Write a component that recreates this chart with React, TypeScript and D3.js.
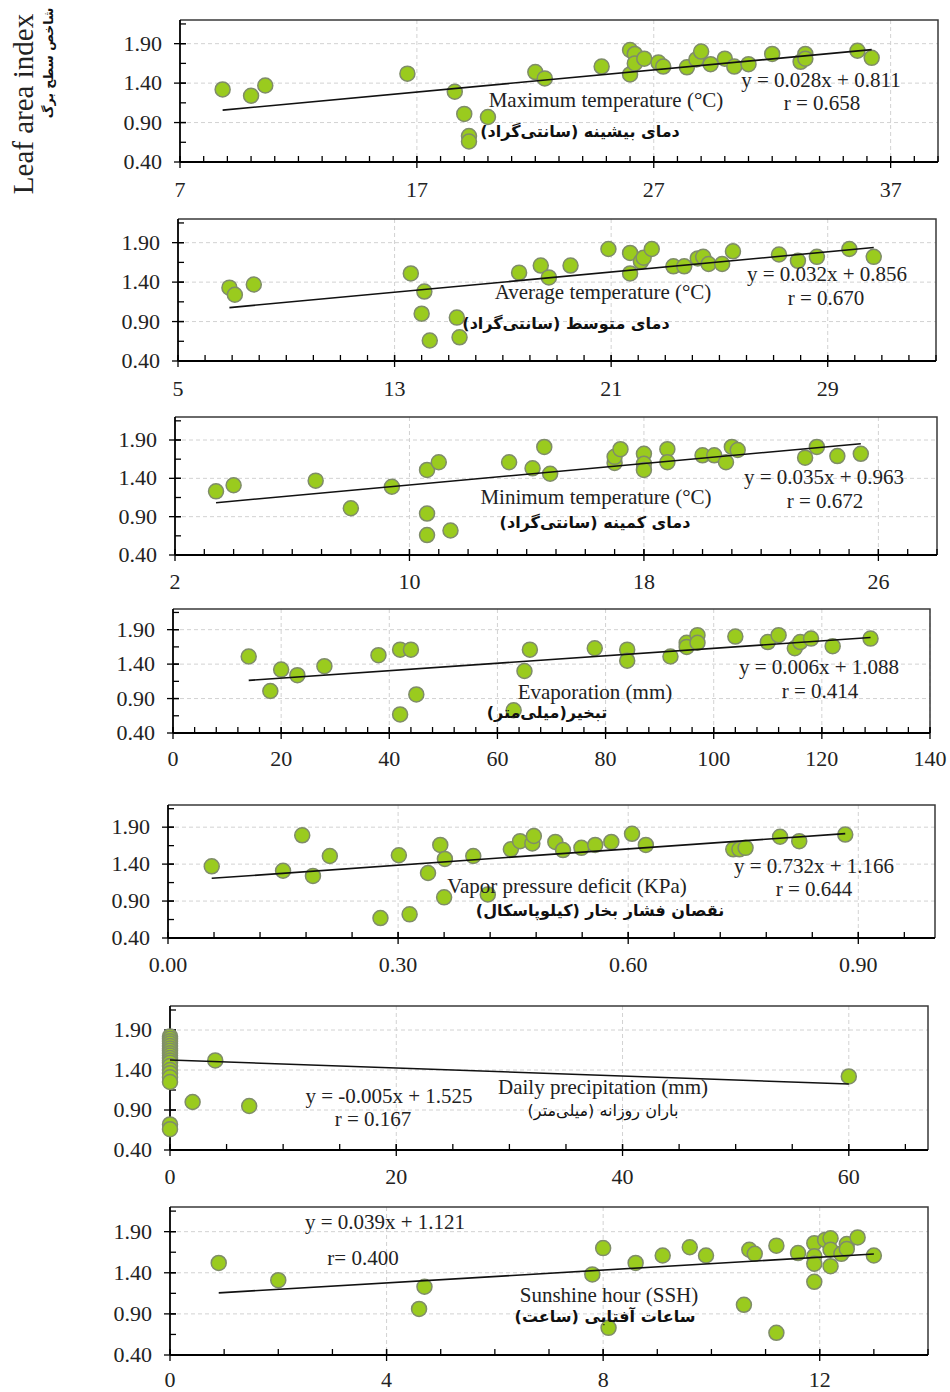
import React, { useEffect, useRef } from 'react';
import * as d3 from 'd3';

// values
const maxTempX = [8.8, 10.0, 10.6, 16.6, 18.6, 19.0, 19.2, 19.2, 20.0, 22.0, 22.4, 24.8, 26.0, 26.2, 26.0, 26.2, 26.6, 27.2, 27.4, 28.4, 28.8, 29.0, 29.4, 30.0, 30.4, 31.0, 32.0, 33.2, 33.4, 33.4, 35.6, 36.2];
const maxTempY = [1.32, 1.24, 1.37, 1.52, 1.29, 1.01, 0.73, 0.66, 0.97, 1.54, 1.46, 1.61, 1.82, 1.77, 1.51, 1.65, 1.71, 1.66, 1.61, 1.60, 1.70, 1.80, 1.64, 1.71, 1.61, 1.64, 1.77, 1.67, 1.77, 1.71, 1.81, 1.72];

const avgTempX = [6.9, 7.1, 7.8, 13.6, 14.1, 14.0, 14.3, 15.3, 15.4, 17.6, 18.4, 18.7, 19.5, 20.9, 21.7, 21.7, 22.1, 22.2, 22.5, 23.3, 23.7, 24.2, 24.4, 24.6, 25.1, 25.5, 27.2, 27.9, 28.6, 29.8, 30.7];
const avgTempY = [1.33, 1.24, 1.37, 1.51, 1.28, 1.00, 0.66, 0.95, 0.70, 1.52, 1.61, 1.46, 1.61, 1.82, 1.77, 1.51, 1.66, 1.71, 1.82, 1.60, 1.60, 1.70, 1.72, 1.63, 1.63, 1.79, 1.75, 1.67, 1.72, 1.82, 1.72];

const minTempX = [3.4, 4.0, 6.8, 8.0, 9.4, 10.6, 10.6, 10.6, 11.0, 11.4, 13.4, 14.2, 14.6, 14.8, 17.0, 17.0, 17.2, 18.0, 18.0, 18.0, 18.8, 18.8, 20.0, 20.4, 20.8, 21.0, 21.2, 23.5, 23.9, 24.6, 25.4];
const minTempY = [1.23, 1.31, 1.37, 1.01, 1.29, 1.51, 0.94, 0.66, 1.61, 0.72, 1.61, 1.53, 1.81, 1.46, 1.60, 1.68, 1.78, 1.72, 1.59, 1.51, 1.78, 1.61, 1.70, 1.70, 1.61, 1.81, 1.77, 1.67, 1.81, 1.69, 1.72];

const evapX = [14, 18, 20, 23, 28, 38, 42, 42, 44, 45, 63, 65, 66, 78, 84, 84, 92, 95, 95, 97, 97, 104, 110, 112, 115, 116, 118, 122, 129];
const evapY = [1.51, 1.01, 1.32, 1.24, 1.37, 1.53, 1.61, 0.67, 1.61, 0.96, 0.73, 1.30, 1.61, 1.63, 1.61, 1.45, 1.51, 1.71, 1.65, 1.82, 1.71, 1.80, 1.72, 1.82, 1.63, 1.72, 1.77, 1.66, 1.77];

const vpdX = [0.057, 0.150, 0.175, 0.189, 0.211, 0.277, 0.301, 0.315, 0.339, 0.355, 0.361, 0.360, 0.398, 0.417, 0.447, 0.459, 0.475, 0.477, 0.505, 0.515, 0.539, 0.557, 0.578, 0.605, 0.623, 0.737, 0.745, 0.753, 0.798, 0.823, 0.883];
const vpdY = [1.37, 1.31, 1.79, 1.24, 1.51, 0.67, 1.52, 0.72, 1.28, 1.66, 1.47, 0.95, 1.51, 0.99, 1.60, 1.71, 1.68, 1.78, 1.70, 1.59, 1.62, 1.66, 1.70, 1.81, 1.66, 1.60, 1.60, 1.62, 1.77, 1.71, 1.80];

const rainX = [0, 0, 0, 0, 0, 0, 0, 0, 0, 0, 0, 0, 0, 0, 0, 0, 0, 0, 0, 2, 4, 7, 60];
const rainY = [1.82, 1.79, 1.76, 1.73, 1.70, 1.67, 1.64, 1.61, 1.58, 1.55, 1.52, 1.49, 1.45, 1.40, 1.36, 1.31, 1.25, 0.72, 0.66, 1.00, 1.52, 0.95, 1.32];

const sunX = [0.9, 2.0, 4.6, 4.7, 7.8, 8.0, 8.1, 8.6, 9.1, 9.6, 9.9, 10.7, 10.8, 10.6, 11.2, 11.2, 11.6, 11.9, 11.9, 11.9, 11.9, 12.1, 12.2, 12.2, 12.2, 12.4, 12.5, 12.5, 12.7, 13.0];
const sunY = [1.52, 1.31, 0.96, 1.23, 1.38, 1.70, 0.73, 1.52, 1.61, 1.71, 1.61, 1.68, 1.63, 1.01, 1.73, 0.67, 1.64, 1.76, 1.60, 1.51, 1.29, 1.80, 1.82, 1.68, 1.48, 1.63, 1.75, 1.69, 1.83, 1.61];

// fitted lines (evaporation slope as drawn, label is rounded)
const fitSlopes = [0.028, 0.032, 0.035, 0.0054, 0.732, -0.005, 0.039];
const fitIntercepts = [0.811, 0.856, 0.963, 1.089, 1.166, 1.525, 1.121];

const equationLabels = ['y = 0.028x + 0.811', 'y = 0.032x + 0.856', 'y = 0.035x + 0.963', 'y = 0.006x + 1.088', 'y = 0.732x + 1.166', 'y = -0.005x + 1.525', 'y = 0.039x + 1.121'];
const rLabels = ['r = 0.658', 'r = 0.670', 'r = 0.672', 'r = 0.414', 'r = 0.644', 'r = 0.167', 'r= 0.400'];
const englishTitles = ['Maximum temperature (°C)', 'Average temperature (°C)', 'Minimum temperature (°C)', 'Evaporation (mm)', 'Vapor pressure deficit (KPa)', 'Daily precipitation (mm)', 'Sunshine hour (SSH)'];
const persianTitles = ['دمای بیشینه (سانتی\u200cگراد)', 'دمای متوسط (سانتی\u200cگراد)', 'دمای کمینه (سانتی\u200cگراد)', 'تبخیر(میلی\u200cمتر)', 'نقصان فشار بخار (کیلوپاسکال)', 'باران روزانه (میلی\u200cمتر)', 'ساعات آفتابی (ساعت)'];

const xDomains = [[7, 39], [5, 33], [2, 28], [0, 140], [0, 1], [0, 67], [0, 14]];
const xMajorTicks = [[7, 17, 27, 37], [5, 13, 21, 29], [2, 10, 18, 26], [0, 20, 40, 60, 80, 100, 120, 140], [0, 0.3, 0.6, 0.9], [0, 20, 40, 60], [0, 4, 8, 12]];
const xMinorSteps = [1, 1, 1, 4, 0.06, 5, 1];
const yMajorTicks = [0.4, 0.9, 1.4, 1.9];
const yDomain = [0.4, 2.2];

// layout: plot boxes and text spots, in pixels
const boxes = [
  { left: 180, right: 938, top: 20, bottom: 162, lab: 35 },
  { left: 178, right: 936, top: 219, bottom: 361, lab: 35 },
  { left: 175, right: 937, top: 417, bottom: 555, lab: 34 },
  { left: 173, right: 930, top: 609, bottom: 733, lab: 33 },
  { left: 168, right: 935, top: 805, bottom: 938, lab: 34 },
  { left: 170, right: 928, top: 1006, bottom: 1150, lab: 34 },
  { left: 170, right: 928, top: 1207, bottom: 1355, lab: 32 },
];
const spots = [
  { eq: [821, 87], r: [822, 110], en: [606, 107], fa: [580, 137], faBold: true },
  { eq: [827, 281], r: [826, 305], en: [603, 299], fa: [566, 329], faBold: true },
  { eq: [824, 484], r: [825, 508], en: [596, 504], fa: [595, 528], faBold: true },
  { eq: [819, 674], r: [820, 698], en: [595, 699], fa: [547, 718], faBold: true },
  { eq: [814, 873], r: [814, 896], en: [567, 893], fa: [600, 916], faBold: true },
  { eq: [389, 1103], r: [373, 1126], en: [603, 1094], fa: [603, 1116], faBold: false },
  { eq: [385, 1229], r: [363, 1265], en: [609, 1302], fa: [605, 1322], faBold: true },
];

const seriesX = [maxTempX, avgTempX, minTempX, evapX, vpdX, rainX, sunX];
const seriesY = [maxTempY, avgTempY, minTempY, evapY, vpdY, rainY, sunY];

const SERIF = '"Liberation Serif", "Times New Roman", serif';
const ARABIC = '"DejaVu Sans", "Noto Sans", sans-serif';

function drawPanel(g, i) {
  const b = boxes[i], s = spots[i];
  const x = d3.scaleLinear().domain(xDomains[i]).range([b.left, b.right]);
  const y = d3.scaleLinear().domain(yDomain).range([b.bottom, b.top]);
  const fmt = i === 4 ? (d) => d.toFixed(2) : (d) => String(d);

  // dashed grid
  g.append('g').selectAll('line').data(yMajorTicks.slice(1)).enter().append('line')
    .attr('x1', b.left).attr('x2', b.right)
    .attr('y1', d => y(d)).attr('y2', d => y(d))
    .attr('stroke', '#d2d2d2').attr('stroke-dasharray', '4,3');
  g.append('g').selectAll('line').data(xMajorTicks[i].filter(t => t > xDomains[i][0])).enter().append('line')
    .attr('x1', d => x(d)).attr('x2', d => x(d))
    .attr('y1', b.top).attr('y2', b.bottom)
    .attr('stroke', '#d2d2d2').attr('stroke-dasharray', '4,3');

  // frame
  g.append('path').attr('d', `M${b.left},${b.top}H${b.right}V${b.bottom}`)
    .attr('fill', 'none').attr('stroke', '#3a3a3a').attr('stroke-width', 1.5);
  g.append('line').attr('x1', b.left).attr('x2', b.left).attr('y1', b.top).attr('y2', b.bottom)
    .attr('stroke', '#000').attr('stroke-width', 1.8);
  g.append('line').attr('x1', b.left).attr('x2', b.right).attr('y1', b.bottom).attr('y2', b.bottom)
    .attr('stroke', '#000').attr('stroke-width', 1.8);

  // ticks
  const xMinor = d3.range(xDomains[i][0], xDomains[i][1] + 1e-9, xMinorSteps[i]);
  g.append('g').selectAll('line').data(xMinor).enter().append('line')
    .attr('x1', d => x(d)).attr('x2', d => x(d))
    .attr('y1', b.bottom).attr('y2', b.bottom - 6)
    .attr('stroke', '#000').attr('stroke-width', 1.3);
  g.append('g').selectAll('line').data(xMajorTicks[i]).enter().append('line')
    .attr('x1', d => x(d)).attr('x2', d => x(d))
    .attr('y1', b.bottom - 6).attr('y2', b.bottom + 6)
    .attr('stroke', '#000').attr('stroke-width', 1.3);
  const yMinor = d3.range(yDomain[0], yDomain[1], 0.25);
  g.append('g').selectAll('line').data(yMinor).enter().append('line')
    .attr('x1', b.left).attr('x2', b.left + 6)
    .attr('y1', d => y(d)).attr('y2', d => y(d))
    .attr('stroke', '#000').attr('stroke-width', 1.3);
  g.append('g').selectAll('line').data(yMajorTicks).enter().append('line')
    .attr('x1', b.left - 6).attr('x2', b.left + 6)
    .attr('y1', d => y(d)).attr('y2', d => y(d))
    .attr('stroke', '#000').attr('stroke-width', 1.3);

  // tick labels
  g.append('g').selectAll('text').data(xMajorTicks[i]).enter().append('text')
    .attr('x', d => x(d)).attr('y', b.bottom + b.lab)
    .attr('text-anchor', 'middle').attr('font-family', SERIF).attr('font-size', 22)
    .attr('fill', '#222').text(fmt);
  g.append('g').selectAll('text').data(yMajorTicks).enter().append('text')
    .attr('x', b.left - 18).attr('y', d => y(d) + 7)
    .attr('text-anchor', 'end').attr('font-family', SERIF).attr('font-size', 22)
    .attr('fill', '#222').text(d => d.toFixed(2));

  // points
  const xs = seriesX[i], ys = seriesY[i];
  g.append('g').selectAll('circle').data(xs).enter().append('circle')
    .attr('cx', d => x(d)).attr('cy', (d, k) => y(ys[k])).attr('r', 7.5)
    .attr('fill', '#9acb1e').attr('stroke', '#7f8c6a').attr('stroke-width', 1.5);

  // fitted line
  const ext = d3.extent(xs);
  const fit = d3.line().x(d => x(d)).y(d => y(fitSlopes[i] * d + fitIntercepts[i]));
  g.append('path').attr('d', fit(ext)).attr('stroke', '#111').attr('stroke-width', 1.6).attr('fill', 'none');

  // annotations
  const txt = (pos, str, size) => g.append('text').attr('x', pos[0]).attr('y', pos[1])
    .attr('text-anchor', 'middle').attr('font-family', SERIF).attr('font-size', size)
    .attr('fill', '#222').text(str);
  txt(s.eq, equationLabels[i], 21);
  txt(s.r, rLabels[i], 21);
  txt(s.en, englishTitles[i], 21);
  g.append('text').attr('x', s.fa[0]).attr('y', s.fa[1])
    .attr('text-anchor', 'middle').attr('direction', 'rtl').style('unicode-bidi', 'embed')
    .attr('font-family', ARABIC).attr('font-size', 16)
    .attr('font-weight', s.faBold ? 'bold' : 'normal')
    .attr('fill', '#111').text(persianTitles[i]);
}

export default function App() {
  const ref = useRef(null);

  useEffect(() => {
    const svg = d3.select(ref.current);
    svg.selectAll('*').remove();
    svg.append('rect').attr('width', 950).attr('height', 1392).attr('fill', '#fff');
    boxes.forEach((b, i) => drawPanel(svg.append('g'), i));

    // shared y title
    svg.append('text').attr('transform', 'translate(33,104) rotate(-90)')
      .attr('text-anchor', 'middle').attr('font-family', SERIF).attr('font-size', 29)
      .attr('fill', '#222').text('Leaf area index');
    svg.append('text').attr('transform', 'translate(53,63) rotate(-90)')
      .attr('text-anchor', 'middle').attr('direction', 'rtl').style('unicode-bidi', 'embed')
      .attr('font-family', ARABIC).attr('font-size', 12.5).attr('font-weight', 'bold')
      .attr('fill', '#111').text('شاخص سطح برگ');
  }, []);

  return (
    <svg ref={ref} width={950} height={1392}
      style={{ position: 'absolute', left: 0, top: 0, display: 'block' }} />
  );
}
